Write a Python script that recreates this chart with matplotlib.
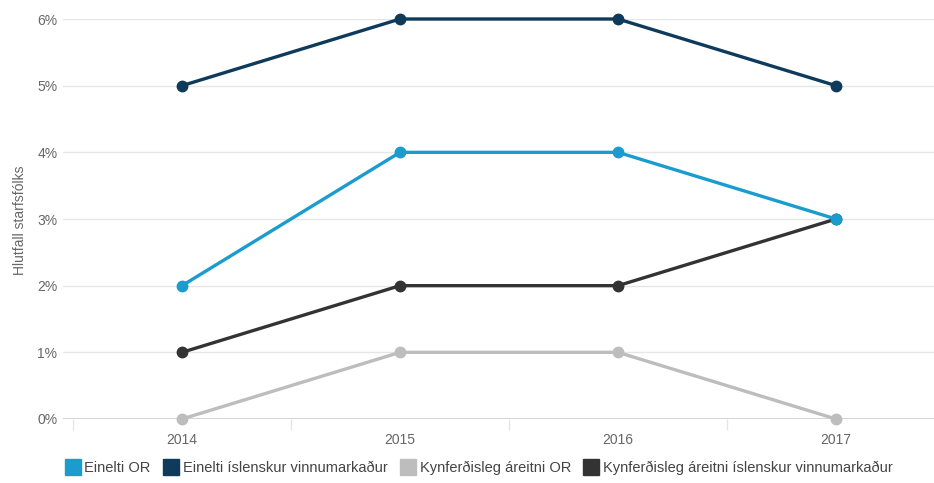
import matplotlib.pyplot as plt
from matplotlib.lines import Line2D

ar = [2014, 2015, 2016, 2017]
einelti_or = [2, 4, 4, 3]
einelti_isl = [5, 6, 6, 5]
kyn_or = [0, 1, 1, 0]
kyn_isl = [1, 2, 2, 3]

heiti = ['Einelti OR', 'Einelti íslenskur vinnumarkaður',
         'Kynferðisleg áreitni OR', 'Kynferðisleg áreitni íslenskur vinnumarkaður']
litir = ['#1a9ccf', '#0e3a5b', '#bdbdbd', '#333333']
y_ticks = [0, 1, 2, 3, 4, 5, 6]

plt.rcParams['font.family'] = ['Liberation Sans', 'DejaVu Sans']

W, H = 934, 483
fig = plt.figure(figsize=(W / 100, H / 100), dpi=100)
left, right, top, bottom = 63, 934, 19, 419
ax = fig.add_axes([left / W, 1 - bottom / H, (right - left) / W, (bottom - top) / H])

# 2014 at pixel 182, 2017 at 836
ppu = (836 - 182) / 3
ax.set_xlim(2014 - (182 - left) / ppu, 2017 + (right - 836) / ppu)
ax.set_ylim(0, 6)

gogn = [einelti_or, einelti_isl, kyn_or, kyn_isl]
for i in [1, 2, 3, 0]:
    ax.plot(ar, gogn[i], color=litir[i], lw=2.4, marker='o', markersize=7.5,
            zorder=5 if i == 0 else 3, clip_on=False)

for s in ax.spines.values():
    s.set_visible(False)
ax.set_yticks(y_ticks)
ax.set_yticklabels([f'{v}%' for v in y_ticks])
ax.grid(axis='y', color='#e6e6e6', lw=1)
ax.axhline(0, color='#c8c8c8', lw=1.2, zorder=1)
ax.tick_params(axis='y', length=0, pad=4, labelsize=10, labelcolor='#666666')

ax.set_xticks(ar)
ax.set_xticklabels([str(a) for a in ar])
ax.set_xticks([a - 0.5 for a in ar], minor=True)
ax.tick_params(axis='x', which='major', length=0, pad=10, labelsize=10, labelcolor='#666666')
ax.tick_params(axis='x', which='minor', length=8, color='#e6e6e6', width=1)

fig.text(20 / W, 1 - 220 / H, 'Hlutfall starfsfólks', rotation=90, ha='center', va='center',
         fontsize=10, color='#666666')

handles = [Line2D([], [], marker='s', linestyle='none', markersize=12, color=c) for c in litir]
fig.legend(handles, heiti, loc='center', bbox_to_anchor=(0.513, 1 - 468 / H), ncol=4,
           frameon=False, fontsize=10.5, labelcolor='#444444', handletextpad=0.3,
           columnspacing=0.9, handlelength=1.0)

fig.savefig('out.png', dpi=100)
